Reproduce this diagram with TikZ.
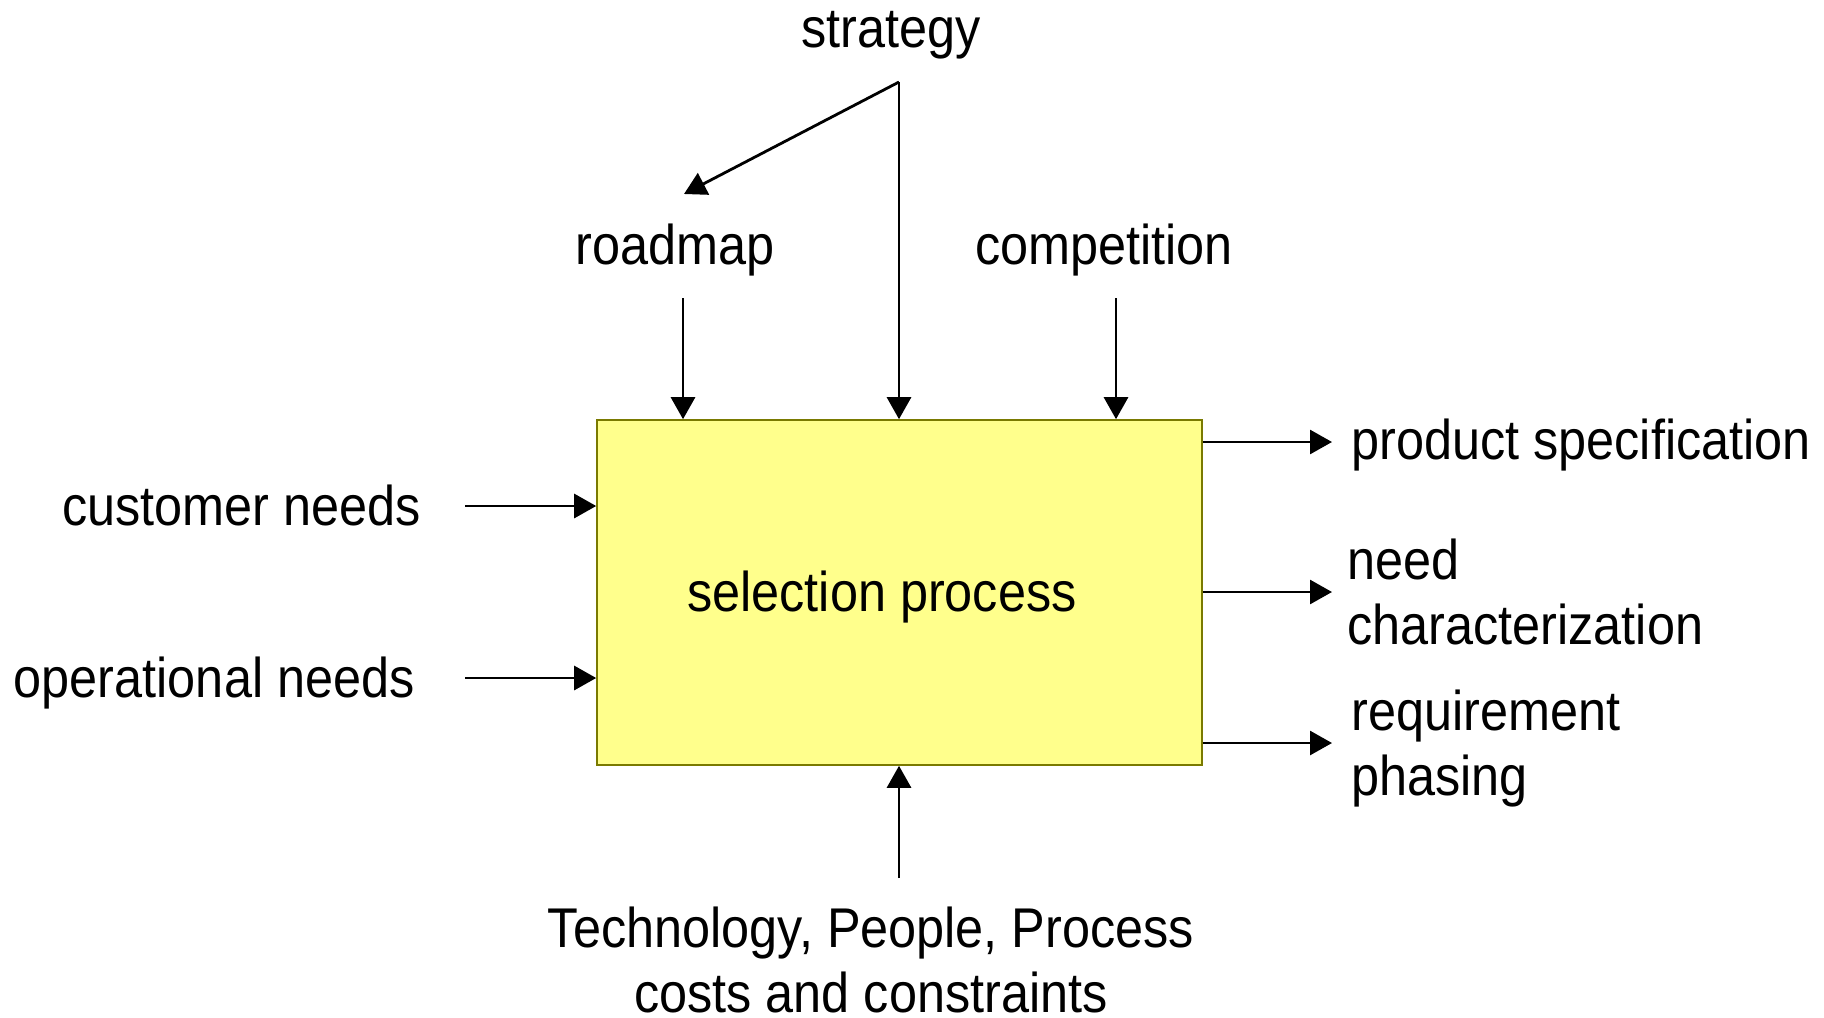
\documentclass[tikz,border=0pt]{standalone}
\usepackage{fontspec}
\setmainfont{Liberation Sans}[FakeStretch=0.9]
\usetikzlibrary{arrows.meta}
\definecolor{boxfill}{HTML}{FFFF8C}
\definecolor{boxline}{HTML}{7A7A00}
\begin{document}
\begin{tikzpicture}[x=0.5pt,y=-0.5pt,
  lbl/.style={inner sep=0pt,font=\fontsize{28pt}{32.25pt}\selectfont},
  arr/.style={line width=1.4pt,-{Triangle[length=11pt,width=12pt]}},
  procbox/.style={draw=boxline,line width=0.8pt,fill=boxfill,minimum width=302.5pt,minimum height=172.5pt,inner sep=0pt}]
\useasboundingbox (0,0) rectangle (1824,1017);
% box
\node[procbox] (box) at (899.5,592.5) {};
\node[lbl,anchor=base] (sel) at (882,611) {selection process};
% top labels
\node[lbl,anchor=base] (strategy) at (891,47) {strategy};
\node[lbl,anchor=base] (roadmap) at (675,264) {roadmap};
\node[lbl,anchor=base] (competition) at (1104,264) {competition};
% left labels
\node[lbl,anchor=base east] (cust) at (421,525) {customer needs};
\node[lbl,anchor=base east] (oper) at (415,697) {operational needs};
% right labels
\node[lbl,anchor=base west] (prod) at (1351,459) {product specification};
\node[lbl,anchor=north west,align=left] (need) at (1347,539) {need\\characterization};
\node[lbl,anchor=north west,align=left] (req) at (1351,690) {requirement\\phasing};
% bottom label
\node[lbl,anchor=north,align=center] (tech) at (871,907) {Technology, People, Process\\costs and constraints};
% coordinates
\coordinate (apex) at (899,82);
\coordinate (rmtip) at (684,194);
\coordinate (rmstart) at (683,298);
\coordinate (cpstart) at (1116,298);
\coordinate (custstart) at (465,506);
\coordinate (operstart) at (465,678);
\coordinate (techstart) at (899,878);
\coordinate (prodend) at (1332,442);
\coordinate (needend) at (1332,592);
\coordinate (reqend) at (1332,743);
% connectors
\draw[arr] (apex) -- (rmtip);
\draw[arr] (apex) -- (apex |- box.north);
\draw[arr] (rmstart) -- (rmstart |- box.north);
\draw[arr] (cpstart) -- (cpstart |- box.north);
\draw[arr] (custstart) -- (custstart -| box.west);
\draw[arr] (operstart) -- (operstart -| box.west);
\draw[arr] (techstart) -- (techstart |- box.south);
\draw[arr] (prodend -| box.east) -- (prodend);
\draw[arr] (needend -| box.east) -- (needend);
\draw[arr] (reqend -| box.east) -- (reqend);
\end{tikzpicture}
\end{document}
